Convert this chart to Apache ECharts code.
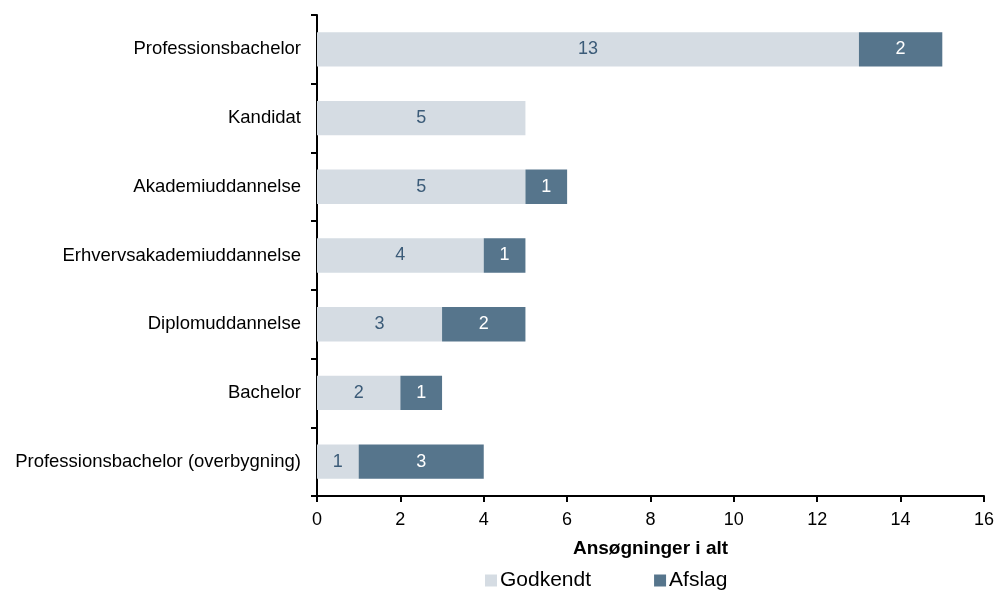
<!DOCTYPE html>
<html><head><meta charset="utf-8">
<script src="https://cdn.jsdelivr.net/npm/echarts@6/dist/echarts.min.js"></script>
<style>html,body{margin:0;padding:0;background:#fff}#c{width:997px;height:592px}</style>
</head><body><div id="c"></div>
<script>
const categories = ["Professionsbachelor","Kandidat","Akademiuddannelse","Erhvervsakademiuddannelse","Diplomuddannelse","Bachelor","Professionsbachelor (overbygning)"];
const godkendt = [13,5,5,4,3,2,1];
const afslag = [2,0,1,1,2,1,3];
const xTicks = {min:0,max:16,interval:2};
const FONT = "Liberation Sans, Arial, sans-serif";
const chart = echarts.init(document.getElementById('c'));
chart.setOption({
  animation:false,
  textStyle:{fontFamily:FONT},
  grid:{left:317,right:12,top:15,bottom:96,containLabel:false},
  legend:{
    top:565,left:480,itemWidth:12,itemHeight:12,itemGap:63,
    icon:'rect',
    textStyle:{fontSize:21,color:'#000',fontFamily:FONT,padding:[0,0,0,-2]},
    data:['Godkendt','Afslag']
  },
  xAxis:{
    type:'value',min:xTicks.min,max:xTicks.max,interval:xTicks.interval,
    name:'Ansøgninger i alt',nameLocation:'middle',nameGap:43,
    nameTextStyle:{fontSize:19,fontWeight:'bold',color:'#000',fontFamily:FONT},
    axisLine:{show:true,lineStyle:{color:'#000',width:2}},
    axisTick:{show:true,length:6,lineStyle:{color:'#000',width:2}},
    axisLabel:{fontSize:18,color:'#000',margin:15},
    splitLine:{show:false}
  },
  yAxis:{
    type:'category',data:categories,inverse:true,
    axisLine:{show:true,lineStyle:{color:'#000',width:2}},
    axisTick:{show:true,length:6,lineStyle:{color:'#000',width:2}},
    axisLabel:{fontSize:18.5,color:'#000',margin:16}
  },
  series:[
    {name:'Godkendt',type:'bar',stack:'s',data:godkendt,barWidth:'50%',
     itemStyle:{color:'#d5dce3'},
     label:{show:true,position:'inside',fontSize:18,color:'#3b5b78',
       formatter:p=>p.value?p.value:''}},
    {name:'Afslag',type:'bar',stack:'s',data:afslag,barWidth:'50%',
     itemStyle:{color:'#56758c'},
     label:{show:true,position:'inside',fontSize:18,color:'#fff',
       formatter:p=>p.value?p.value:''}}
  ]
});
</script></body></html>
